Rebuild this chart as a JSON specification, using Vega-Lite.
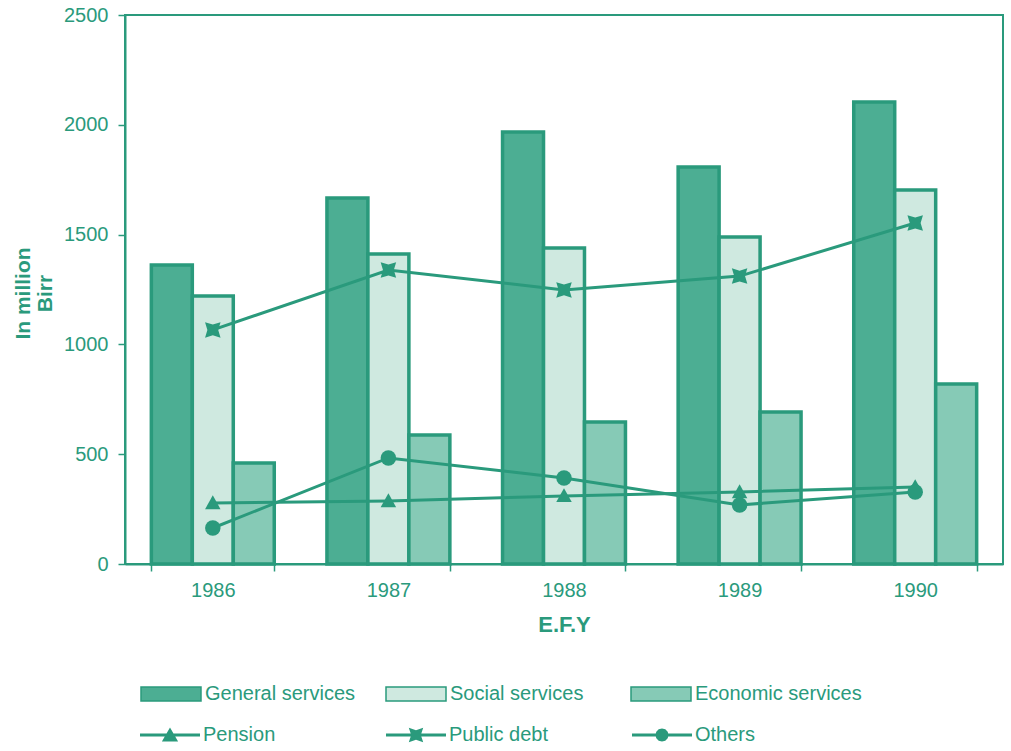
{
  "$schema": "https://vega.github.io/schema/vega-lite/v6.json",
  "width": 878,
  "height": 549,
  "autosize": {"type": "none"},
  "padding": {"left": 125, "top": 15, "right": 8, "bottom": 187},
  "background": "white",
  "datasets": {
    "bars": [
      {"year": "1986", "series": "General services", "value": 1362},
      {"year": "1986", "series": "Social services", "value": 1220},
      {"year": "1986", "series": "Economic services", "value": 460},
      {"year": "1987", "series": "General services", "value": 1667},
      {"year": "1987", "series": "Social services", "value": 1412},
      {"year": "1987", "series": "Economic services", "value": 587},
      {"year": "1988", "series": "General services", "value": 1967},
      {"year": "1988", "series": "Social services", "value": 1439},
      {"year": "1988", "series": "Economic services", "value": 647},
      {"year": "1989", "series": "General services", "value": 1808},
      {"year": "1989", "series": "Social services", "value": 1489},
      {"year": "1989", "series": "Economic services", "value": 692},
      {"year": "1990", "series": "General services", "value": 2104},
      {"year": "1990", "series": "Social services", "value": 1703},
      {"year": "1990", "series": "Economic services", "value": 820}
    ],
    "lines": [
      {"year": "1986", "series": "Pension", "value": 278},
      {"year": "1987", "series": "Pension", "value": 287},
      {"year": "1988", "series": "Pension", "value": 310},
      {"year": "1989", "series": "Pension", "value": 328},
      {"year": "1990", "series": "Pension", "value": 351},
      {"year": "1986", "series": "Public debt", "value": 1066},
      {"year": "1987", "series": "Public debt", "value": 1339},
      {"year": "1988", "series": "Public debt", "value": 1248},
      {"year": "1989", "series": "Public debt", "value": 1311},
      {"year": "1990", "series": "Public debt", "value": 1553},
      {"year": "1986", "series": "Others", "value": 164},
      {"year": "1987", "series": "Others", "value": 483},
      {"year": "1988", "series": "Others", "value": 392},
      {"year": "1989", "series": "Others", "value": 269},
      {"year": "1990", "series": "Others", "value": 328}
    ]
  },
  "encoding": {
    "x": {
      "field": "year", "type": "nominal",
      "scale": {"paddingInner": 0.3, "paddingOuter": 0.15},
      "axis": {
        "title": "E.F.Y", "labelAngle": 0, "tickBand": "extent",
        "labelFontSize": 20, "labelPadding": 9, "tickSize": 7,
        "titleFontSize": 22, "titleFontWeight": "bold", "titlePadding": 14
      }
    },
    "y": {
      "field": "value", "type": "quantitative",
      "scale": {"domain": [0, 2500], "nice": false},
      "axis": {
        "values": [0, 500, 1000, 1500, 2000, 2500], "format": "d",
        "title": ["In million", "Birr"], "grid": false,
        "labelFontSize": 20, "labelPadding": 10, "tickSize": 7,
        "titleFontSize": 21, "titleFontWeight": "bold",
        "titleAngle": -90, "titleX": -113, "titleY": 278,
        "titleAlign": "center", "titleBaseline": "top", "titleLineHeight": 22
      }
    }
  },
  "layer": [
    {
      "data": {"name": "bars"},
      "mark": {"type": "bar", "stroke": "#2a9a7c", "strokeWidth": 3.5},
      "encoding": {
        "xOffset": {"field": "series", "type": "nominal",
          "sort": ["General services", "Social services", "Economic services"]},
        "fill": {
          "field": "series", "type": "nominal",
          "scale": {
            "domain": ["General services", "Social services", "Economic services"],
            "range": ["#4cae93", "#cfe9e0", "#86cab6"]
          },
          "legend": {
            "orient": "none", "legendX": 15, "legendY": 648,
            "direction": "horizontal", "columns": 3, "gridAlign": "all",
            "columnPadding": 11, "title": null, "padding": 0,
            "symbolType": "M-1,-0.23H1V0.23H-1Z", "symbolSize": 3600,
            "symbolOpacity": 1,
            "labelFontSize": 20, "labelOffset": 3, "labelLimit": 300,
            "encode": {"symbols": {"update": {"stroke": {"value": "#2a9a7c"}, "strokeWidth": {"value": 2}}}}
          }
        }
      }
    },
    {
      "data": {"name": "lines"},
      "mark": {"type": "line", "color": "#2a9a7c", "strokeWidth": 3},
      "encoding": {"detail": {"field": "series", "type": "nominal"}}
    },
    {
      "data": {"name": "lines"},
      "mark": {"type": "point", "filled": true, "color": "#2a9a7c", "opacity": 1, "size": 240},
      "encoding": {
        "shape": {
          "field": "series", "type": "nominal",
          "scale": {
            "domain": ["Pension", "Public debt", "Others"],
            "range": [
              "M-1,0.8L0,-1L1,0.8Z",
              "M-1,-1L0,-0.7L1,-1L0.7,0L1,1L0,0.7L-1,1L-0.7,0Z",
              "circle"
            ]
          },
          "legend": null
        }
      }
    },
    {
      "data": {"name": "lines"},
      "mark": {"type": "point", "filled": true, "color": "#2a9a7c", "opacity": 0, "size": 10},
      "encoding": {
        "shape": {
          "field": "series", "type": "nominal",
          "scale": {
            "domain": ["Pension", "Public debt", "Others"],
            "range": [
              "M-1,-0.05H1V0.05H-1Z M-0.27,0.22L0,-0.25L0.27,0.22Z",
              "M-1,-0.05H1V0.05H-1Z M-0.24,-0.24L0,-0.16L0.24,-0.24L0.16,0L0.24,0.24L0,0.16L-0.24,0.24L-0.16,0Z",
              "M-1,-0.05H1V0.05H-1Z M0.22,0L0.19,0.11L0.11,0.19L0,0.22L-0.11,0.19L-0.19,0.11L-0.22,0L-0.19,-0.11L-0.11,-0.19L0,-0.22L0.11,-0.19L0.19,-0.11Z"
            ]
          },
          "legend": {
            "orient": "none", "legendX": 15, "legendY": 690,
            "direction": "horizontal", "columns": 3, "gridAlign": "all",
            "columnPadding": 84, "title": null, "padding": 0,
            "symbolSize": 3600, "symbolFillColor": "#2a9a7c", "symbolStrokeColor": "#2a9a7c",
            "symbolOpacity": 1, "symbolStrokeWidth": 0,
            "labelFontSize": 20, "labelOffset": 3, "labelLimit": 300,
            "encode": {"symbols": {"update": {
              "fill": {"value": "#2a9a7c"},
              "opacity": {"value": 1},
              "fillOpacity": {"value": 1},
              "strokeWidth": {"value": 0}
            }}}
          }
        }
      }
    }
  ],
  "resolve": {"scale": {"shape": "independent"}},
  "config": {
    "font": "Liberation Sans",
    "view": {"stroke": "#2a9a7c", "strokeWidth": 2},
    "axis": {
      "domainColor": "#2a9a7c", "domainWidth": 2, "tickColor": "#2a9a7c", "tickWidth": 1.5,
      "labelColor": "#2a9a7c", "titleColor": "#2a9a7c", "labelFont": "Liberation Sans", "titleFont": "Liberation Sans"
    },
    "legend": {"labelColor": "#2a9a7c", "labelFont": "Liberation Sans"}
  }
}
